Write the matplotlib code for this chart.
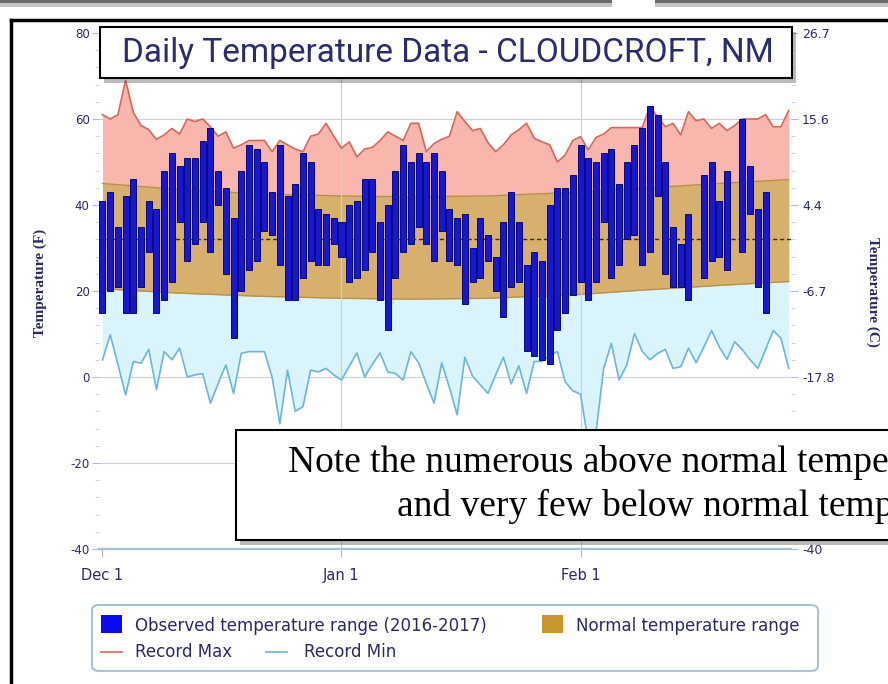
import numpy as np
import matplotlib
matplotlib.use("Agg")
import matplotlib.pyplot as plt
from matplotlib.patches import Rectangle, FancyBboxPatch
from matplotlib.lines import Line2D
from matplotlib import font_manager as fm

# ---------------- data ----------------
tick_days = [0, 31, 62]
tick_labels = ["Dec 1", "Jan 1", "Feb 1"]

obs_high = [41, 43, 35, 42, 46, 35, 41, 39, 48, 52, 49, 51, 51, 55, 58, 48, 44, 37, 48, 54,
            53, 50, 43, 54, 42, 45, 52, 50, 39, 38, 37, 36, 40, 41, 46, 46, 36, 40, 48, 54,
            50, 52, 50, 52, 48, 39, 37, 38, 30, 37, 33, 28, 36, 43, 36, 26, 29, 27, 40, 44,
            44, 47, 54, 51, 50, 52, 53, 45, 50, 54, 58, 63, 61, 50, 35, 31, 38, None, 47, 50,
            41, 48, None, 60, 49, 39, 43]
obs_low = [15, 20, 21, 15, 15, 21, 29, 15, 18, 22, 36, 27, 31, 36, 29, 40, 24, 9, 20, 25,
           27, 34, 33, 26, 18, 18, 23, 27, 26, 26, 31, 28, 22, 23, 25, 29, 18, 11, 23, 29,
           31, 35, 31, 27, 34, 27, 26, 17, 22, 23, 27, 20, 14, 21, 22, 6, 5, 4, 3, 11,
           15, 19, 22, 18, 22, 36, 23, 26, 32, 33, 26, 29, 42, 24, 21, 21, 18, None, 23, 27,
           28, 25, None, 29, 38, 21, 15]

record_max = [61, 60, 61, 69, 61.5, 58.5, 57.5, 55.3, 56.3, 57.8, 56.5, 60, 59.4, 60, 58.2, 56, 57, 53.2, 54, 55,
              55, 55, 52.4, 55, 54, 53, 52.4, 56, 56.5, 59, 56, 53.2, 54.7, 51.2, 53, 53.4, 55, 57, 56, 55,
              59, 59, 52.4, 54.3, 55.3, 56, 61.7, 59.4, 57.3, 57.8, 54.5, 52.4, 54, 56.3, 57.5, 59, 55.5, 54.7, 54, 50,
              51.6, 55, 55.9, 52.8, 55.7, 56.5, 58, 58, 58, 58, 58, 62.9, 60.5, 58.2, 59, 56.3, 61.7, 59.6, 60, 57.8,
              59, 57.3, 58.5, 60, 60, 60, 61, 58.2, 58.2, 62]
record_min = [4, 9.8, 3, -4.2, 3.6, 3.2, 6.4, -2.9, 5.9, 4, 6.7, 0, 0.5, 0.8, -6.1, -1.5, 2.8, -3.8, 5.5, 5.9,
              5.9, 5.9, 0, -10.9, 1.6, -8, -6.9, 1.6, 1.2, 2, 0.5, -0.7, 2.5, 5.6, 0, 3, 5.6, 1.2, 0.8, -0.7,
              5.9, 3.3, -1.5, -6.1, 3.3, -2.5, -8.8, 4.6, 0.2, -1.8, -3.8, 0.5, 4.6, -1.6, 2.6, -3.8, 3.6, 3.6, 5, 5.9,
              -1.1, -3.2, -4, -15, -13, 2, 7.8, -0.7, 2.8, 10.1, 6, 4, 5.5, 6.4, 2, 2.4, 6.7, 3.3, 7, 10.8,
              7, 4.1, 8.2, 6.3, 4, 2, 6.4, 10.8, 9, 2]

normal_days = [0, 10, 20, 31, 40, 50, 62, 70, 80, 89]
normal_high = [45, 43.6, 42.6, 42.1, 41.9, 42.1, 43.0, 43.9, 45.0, 45.9]
normal_low = [20.5, 19.5, 18.8, 18.3, 18.1, 18.3, 19.2, 20.2, 21.3, 22.2]

left_ticks = [-40, -20, 0, 20, 40, 60, 80]
hidden_c_ticks = [-20]   # covered by the note box in the original

# ---------------- helpers ----------------
def pick_font(cands):
    for c in cands:
        try:
            fm.findfont(fm.FontProperties(family=c), fallback_to_default=False)
            return c
        except Exception:
            continue
    return "DejaVu Sans"

title_font = pick_font(["Liberation Sans Narrow", "Roboto", "DejaVu Sans"])
serif_font = pick_font(["Liberation Serif", "DejaVu Serif"])
ui_font = "DejaVu Sans"

W, H = 888, 684
fig = plt.figure(figsize=(W / 100, H / 100), dpi=100)
fig.patch.set_facecolor("white")

def fx(px):
    return px / W

def fy(py):
    return 1 - py / H

navy = "#2a2a66"

# axes placement (pixels)
x_left_px, x_right_px = 99.4, 791.0
y_top_px, y_bot_px = 33.0, 549.0
ax = fig.add_axes([fx(x_left_px), fy(y_bot_px), fx(x_right_px - x_left_px), (y_bot_px - y_top_px) / H])
ax.set_xlim(-0.4, 89.3)
ax.set_ylim(-40, 80)
ax.set_facecolor("white")

days = np.arange(len(record_max))
rmax = np.array(record_max, dtype=float)
rmin = np.array(record_min, dtype=float)

# fills: pink above normal, cyan below normal, tan normal band drawn on top
ax.fill_between(days, rmax, 30, color="#f8b6ac", lw=0, zorder=1)
ax.fill_between(days, rmin, 30, color="#d9f5fb", lw=0, zorder=1)
ax.fill_between(normal_days, normal_low, normal_high, color="#d7b16c", lw=0, zorder=2)
ax.plot(normal_days, normal_high, color="#b8904a", lw=1.0, zorder=2.1)
ax.plot(normal_days, normal_low, color="#b8904a", lw=1.0, zorder=2.1)

# grid
for v in left_ticks[1:]:
    ax.axhline(v, color="#c9d0da", lw=0.8, zorder=0.5)
for d in tick_days[1:]:
    ax.axvline(d, color="#c9d0da", lw=0.9, zorder=2.2)
ax.axhline(32, color="#3a2a1a", lw=1.0, ls=(0, (3, 2)), zorder=2.3)

# record lines
ax.plot(days, rmax, color="#d4685a", lw=1.2, zorder=3)
ax.plot(days, rmin, color="#6cb6d6", lw=1.2, zorder=3)

# observed bars
oh = np.array([np.nan if v is None else v for v in obs_high], dtype=float)
ol = np.array([np.nan if v is None else v for v in obs_low], dtype=float)
od = np.arange(len(oh))
m = ~np.isnan(oh)
ax.bar(od[m], oh[m] - ol[m], bottom=ol[m], width=0.78, color="#1616d6",
       edgecolor="#0a0a70", linewidth=0.7, zorder=4)

# spines / ticks
for s in ["top", "left", "right"]:
    ax.spines[s].set_visible(False)
ax.spines["bottom"].set_color("#a9bfcf")
ax.spines["bottom"].set_linewidth(1.6)
ax.set_xticks(tick_days)
ax.set_xticklabels(tick_labels, fontsize=10.5, color=navy, family=ui_font)
ax.tick_params(axis="x", length=6, color="#b0bccb", pad=8)
ax.set_yticks(left_ticks)
ax.set_yticklabels([str(v) for v in left_ticks], fontsize=8.5, color=navy, family=ui_font)
ax.set_yticks(np.arange(-40, 81, 4), minor=True)
ax.tick_params(axis="y", which="major", length=5, color="#b0bccb", pad=2)
ax.tick_params(axis="y", which="minor", length=3, color="#c0c8d4")

ax2 = ax.twinx()
ax2.set_ylim(-40, 80)
ax2.set_yticks(left_ticks)
def c_label(f):
    if f in hidden_c_ticks:
        return ""
    c = round((f - 32) * 5 / 9, 1)
    s = f"{c:.1f}"
    return s[:-2] if s.endswith(".0") else s
ax2.set_yticklabels([c_label(v) for v in left_ticks], fontsize=9, color=navy, family=ui_font)
ax2.set_yticks(np.arange(-40, 81, 4), minor=True)
ax2.tick_params(axis="y", which="major", length=5, color="#b0bccb", pad=3)
ax2.tick_params(axis="y", which="minor", length=3, color="#c0c8d4")
for s in ["top", "left", "right", "bottom"]:
    ax2.spines[s].set_visible(False)

# axis titles
fig.text(fx(40), fy(283), "Temperature (F)", rotation=90, ha="center", va="center",
         fontsize=11, color=navy, family=serif_font, fontweight="bold")
fig.text(fx(873), fy(292), "Temperature (C)", rotation=270, ha="center", va="center",
         fontsize=11, color=navy, family=serif_font, fontweight="bold")

# ---------------- frame / decorations ----------------
# top screenshot strips
for x0, w in [(0, 612), (655, 240)]:
    fig.patches.append(Rectangle((fx(x0), fy(7)), fx(w), 7 / H, transform=fig.transFigure,
                                 facecolor="#c4c4c4", edgecolor="none", zorder=5))
    fig.patches.append(Rectangle((fx(x0), fy(3)), fx(w), 3 / H, transform=fig.transFigure,
                                 facecolor="#6a6a6a", edgecolor="none", zorder=5))
# outer black border
fig.lines.append(Line2D([fx(11), fx(11)], [fy(20), fy(690)], transform=fig.transFigure,
                        color="black", lw=2.5, zorder=5))
fig.lines.append(Line2D([fx(11), fx(900)], [fy(20), fy(20)], transform=fig.transFigure,
                        color="black", lw=2.5, zorder=5))

# title box with shadow
fig.patches.append(Rectangle((fx(104), fy(83)), fx(692), 51 / H, transform=fig.transFigure,
                             facecolor="#555555", alpha=0.4, edgecolor="none", zorder=6))
fig.patches.append(Rectangle((fx(100), fy(78)), fx(692), 51 / H, transform=fig.transFigure,
                             facecolor="white", edgecolor="black", lw=1.5, zorder=7))
fig.text(fx(448), fy(53), "Daily Temperature Data - CLOUDCROFT, NM", ha="center", va="center",
         fontsize=24, color="#2b2b70", family=title_font, zorder=8)

# annotation box with shadow
fig.patches.append(Rectangle((fx(240), fy(545)), fx(700), 110 / H, transform=fig.transFigure,
                             facecolor="#555555", alpha=0.4, edgecolor="none", zorder=6))
fig.patches.append(Rectangle((fx(236), fy(540)), fx(700), 110 / H, transform=fig.transFigure,
                             facecolor="white", edgecolor="black", lw=1.5, zorder=7))
fig.text(fx(288), fy(463), "Note the numerous above normal temperatures", ha="left", va="center",
         fontsize=27, color="black", family=serif_font, zorder=8)
fig.text(fx(397), fy(506), "and very few below normal temperatures", ha="left", va="center",
         fontsize=27, color="black", family=serif_font, zorder=8)

# legend box
fig.patches.append(FancyBboxPatch((fx(92), fy(671)), fx(726), 66 / H, transform=fig.transFigure,
                                  boxstyle="round,pad=0,rounding_size=0.008",
                                  facecolor="white", edgecolor="#a9c2d2", lw=1.5, zorder=6))
fig.patches.append(Rectangle((fx(101), fy(633)), fx(21), 18 / H, transform=fig.transFigure,
                             facecolor="#0a0af0", edgecolor="none", zorder=7))
fig.text(fx(135), fy(626), "Observed temperature range (2016-2017)", ha="left", va="center",
         fontsize=12, color=navy, family=ui_font, zorder=8)
fig.patches.append(Rectangle((fx(542), fy(633)), fx(21), 18 / H, transform=fig.transFigure,
                             facecolor="#c8962a", edgecolor="none", zorder=7))
fig.text(fx(576), fy(626), "Normal temperature range", ha="left", va="center",
         fontsize=12, color=navy, family=ui_font, zorder=8)
fig.lines.append(Line2D([fx(101), fx(122)], [fy(652), fy(652)], transform=fig.transFigure,
                        color="#d4685a", lw=1.2, zorder=7))
fig.text(fx(135), fy(652), "Record Max", ha="left", va="center",
         fontsize=12, color=navy, family=ui_font, zorder=8)
fig.lines.append(Line2D([fx(266), fx(287)], [fy(652), fy(652)], transform=fig.transFigure,
                        color="#6cb6d6", lw=1.2, zorder=7))
fig.text(fx(304), fy(652), "Record Min", ha="left", va="center",
         fontsize=12, color=navy, family=ui_font, zorder=8)

fig.savefig("out.png", dpi=100)
